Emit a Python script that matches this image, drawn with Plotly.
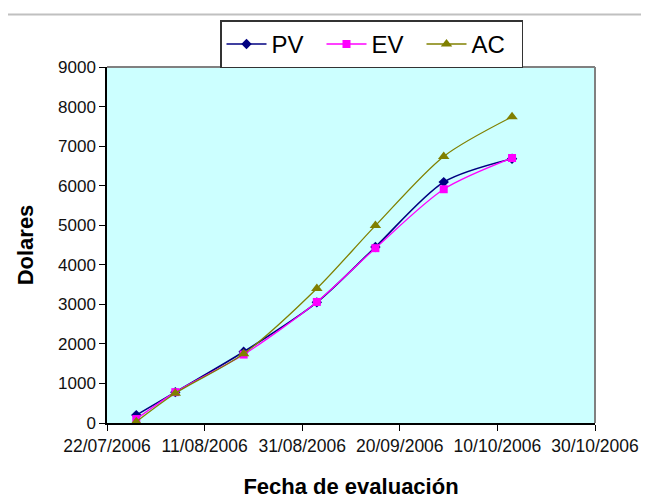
import plotly.graph_objects as go

fechas = ["2006-07-28", "2006-08-05", "2006-08-19", "2006-09-03",
          "2006-09-15", "2006-09-29", "2006-10-13"]
pv = [200, 780, 1800, 3050, 4450, 6090, 6680]
ev = [100, 780, 1730, 3060, 4420, 5910, 6700]
ac = [30, 750, 1750, 3400, 4990, 6740, 7740]

OFF = 8  # page body margin in the browser
W, H = 649 - OFF, 499 - OFF
L, R, T, B = 107, 595, 64, 423  # plot area edges in window pixels


def px(x):
    return (x - L) / (R - L)


def py(y):
    return (B - y) / (B - T)


fig = go.Figure()
fig.add_trace(go.Scatter(x=fechas, y=pv, name="PV", mode="lines+markers",
                         line=dict(color="#000080", width=1.6, shape="spline", smoothing=0.8),
                         marker=dict(symbol="diamond", size=8, color="#000080")))
fig.add_trace(go.Scatter(x=fechas, y=ev, name="EV", mode="lines+markers",
                         line=dict(color="#FF00FF", width=1.3, shape="spline", smoothing=0.8),
                         marker=dict(symbol="square", size=8, color="#FF00FF")))
fig.add_trace(go.Scatter(x=fechas, y=ac, name="AC", mode="lines+markers",
                         line=dict(color="#808000", width=1.3, shape="spline", smoothing=0.8),
                         marker=dict(symbol="triangle-up", size=10, color="#808000")))

fig.update_layout(
    width=W, height=H,
    margin=dict(l=L - OFF, r=649 - R, t=T - OFF, b=499 - B),
    paper_bgcolor="white",
    plot_bgcolor="#CCFFFF",
    font=dict(family="Liberation Sans, Arial, sans-serif", color="#000000"),
    showlegend=True,
    legend=dict(orientation="h", x=px(371.5), xanchor="center", y=py(17), yanchor="top",
                bgcolor="white", bordercolor="#333333", borderwidth=1.5,
                font=dict(size=24, color="#000000"), itemwidth=40, tracegroupgap=0,
                entrywidth=45),
    xaxis=dict(type="date", range=["2006-07-22", "2006-10-30"],
               tick0="2006-07-22", dtick=20 * 86400000, tickformat="%d/%m/%Y",
               ticks="outside", ticklen=6, tickcolor="#000000", tickwidth=1,
               showgrid=False, zeroline=False, automargin=False,
               showline=True, linecolor="#000000", linewidth=1.5,
               tickfont=dict(size=17.5, color="#111111"),
               title=dict(text="<b>Fecha de evaluación</b>", font=dict(size=22), standoff=24)),
    yaxis=dict(range=[0, 9000], dtick=1000, tick0=0,
               ticks="outside", ticklen=6, tickcolor="#000000", tickwidth=1,
               showgrid=False, zeroline=False, automargin=False,
               showline=True, linecolor="#000000", linewidth=1.5,
               tickfont=dict(size=17, color="#111111"),
               title=dict(text="<b>Dolares</b>", font=dict(size=22), standoff=18)),
    shapes=[
        dict(type="line", xref="paper", yref="paper", x0=px(0), x1=px(649), y0=py(11), y1=py(11),
             line=dict(color="#C0C0C0", width=2)),
        dict(type="line", xref="paper", yref="paper", x0=0, x1=1, y0=1, y1=1,
             line=dict(color="#808080", width=2)),
        dict(type="line", xref="paper", yref="paper", x0=1, x1=1, y0=0, y1=1,
             line=dict(color="#808080", width=2)),
    ],
)

fig.write_html("out.html")
